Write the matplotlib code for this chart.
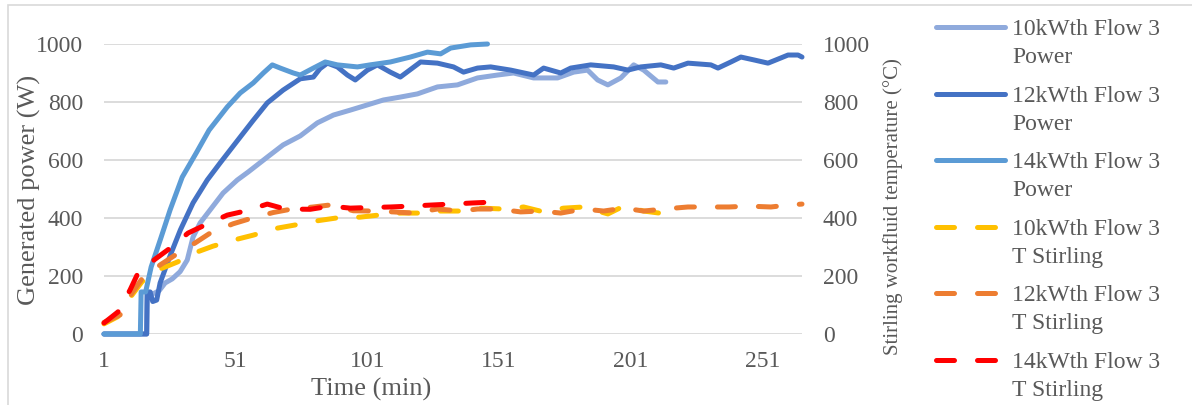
import matplotlib
matplotlib.use("Agg")
import matplotlib.pyplot as plt
from matplotlib.lines import Line2D
from matplotlib.patches import Rectangle

# ---------------- data ----------------
# minutes / generated power (W)
p10_t = [1, 17.2, 17.4, 20, 22, 24.2, 26.9, 29.9, 32.6, 34.8, 37.5, 41.3, 46.2, 51.6, 55.8, 63, 69, 75.5, 82, 88.1,
         94.5, 101, 107.1, 113.5, 120, 127.6, 135.2, 142.8, 150.4, 156.5, 164.1, 173.2, 179.3, 184.6, 188.4, 192.3,
         197.2, 202.1, 205.9, 211.3, 214.3]
p10 = [0, 0, 140, 140, 150, 176, 190, 215, 255, 334, 383, 428, 486, 531, 559, 610, 652, 683, 728, 755,
       772, 790, 807, 817, 828, 852, 859, 883, 893, 900, 883, 883, 903, 910, 876, 859,
       883, 928, 910, 869, 869]

p12_t = [1, 17.2, 17.4, 18.5, 19.5, 21, 22.3, 26.1, 30, 34.8, 40.2, 45.1, 52.7, 57.5, 63, 69, 75.5, 80.5, 83, 85.8,
         89.6, 93.4, 96.4, 101, 104.8, 109.7, 113.5, 121.2, 127.6, 133.7, 137.5, 142.8, 147.8, 155.4, 164.1,
         167.9, 174.4, 178.2, 185.8, 194.5, 199.9, 204.8, 212.4, 217.3, 222.7, 231.4, 234.1, 239, 242.8, 247.8,
         253.1, 258, 260.7, 264.5, 266]
p12 = [0, 0, 145, 145, 112, 117, 176, 270, 359, 452, 531, 590, 679, 735, 797, 841, 880, 886, 915, 934,
       921, 893, 876, 910, 928, 903, 886, 938, 934, 921, 903, 917, 921, 910, 893,
       917, 900, 917, 928, 921, 910, 921, 928, 917, 934, 928, 917, 938, 955, 945,
       934, 952, 962, 962, 955]

p14_t = [1, 14.8, 15.1, 16.8, 18.9, 22.7, 26.1, 30.7, 36, 40.9, 47.8, 52.7, 57.7, 61.5, 64.9, 67.9, 72.9,
         75.5, 80.5, 85, 89.6, 97.2, 102, 109.7, 117.3, 123.8, 128.8, 132.6, 140.2, 146.6]
p14 = [0, 0, 145, 145, 231, 334, 428, 541, 624, 703, 783, 831, 866, 900, 928, 917, 900,
       893, 917, 938, 928, 921, 928, 938, 955, 972, 966, 986, 997, 1000]

# minutes / Stirling workfluid temperature (degC)
t10_t = [1, 6.3, 11.6, 15.4, 21.5, 28.8, 36.4, 42.4, 51.6, 57.7, 66.8, 73.6, 82.4, 89.2, 98.3, 105.2, 113.5,
         121.2, 128.8, 137.1, 144, 152.7, 160.3, 167.9, 175.5, 183.1, 192.3, 198.3, 205.9, 214.3]
t10 = [35, 60, 134, 180, 221, 248, 283, 303, 327, 341, 365, 376, 391, 400, 403, 410, 417,
       417, 424, 424, 434, 431, 438, 421, 434, 438, 414, 441, 424, 414]

t12_t = [1, 7.1, 11.6, 15.4, 22.3, 28, 35.6, 41.3, 50, 57.3, 65.3, 71.7, 80.5, 86.9, 95.7, 103.3, 110.9, 118.5,
         127.6, 136.4, 142.8, 150.4, 159.2, 166.8, 174.4, 183.1, 190.7, 198.3, 205.9, 213.5, 222.7, 230.3, 238.3,
         245.5, 254.2, 261.1, 266]
t12 = [40, 66, 141, 190, 238, 272, 314, 348, 380, 400, 419, 430, 438, 445, 425, 424, 421, 417,
       431, 424, 431, 431, 421, 424, 417, 431, 424, 434, 424, 431, 438, 438, 438,
       441, 438, 445, 448]

t14_t = [1, 6.3, 10.9, 13.9, 20.4, 26.1, 32.9, 39.4, 47.8, 54.6, 63, 69.8, 79.3, 86.9, 94.5, 101, 109.7, 117.3,
         126, 132.6, 141.3, 148.9]
t14 = [38, 76, 152, 210, 258, 296, 348, 376, 410, 424, 448, 431, 430, 441, 434, 436, 438, 441,
       445, 448, 452, 455]

x_ticks = [1, 51, 101, 151, 201, 251]
y_ticks = [0, 200, 400, 600, 800, 1000]

labels = ["10kWth Flow 3\nPower", "12kWth Flow 3\nPower", "14kWth Flow 3\nPower",
          "10kWth Flow 3\nT Stirling", "12kWth Flow 3\nT Stirling", "14kWth Flow 3\nT Stirling"]
colors = ["#8FAADC", "#4472C4", "#5B9BD5", "#FFC000", "#ED7D31", "#FF0000"]

# ---------------- figure ----------------
plt.rcParams['font.family'] = ['Liberation Serif', 'DejaVu Serif']
TXT = '#595959'
W, H = 1192, 405
fig = plt.figure(figsize=(W / 100, H / 100), dpi=100)
fig.patch.set_facecolor('white')

# chart-area border
fig.add_artist(Rectangle((8 / W, -0.1), 1.2, 1 - 5 / H + 0.1, transform=fig.transFigure,
                         fill=False, edgecolor='#D9D9D9', lw=1.2))

L, R, T, B = 104, 802, 44, 334
ax = fig.add_axes([L / W, 1 - B / H, (R - L) / W, (B - T) / H])
ax2 = ax.twinx()

LW = 3.6
DASH = (3.6, 4.6)
solid_kw = dict(lw=LW, solid_capstyle='round', solid_joinstyle='round', clip_on=False)
dash_kw = dict(lw=LW, dash_capstyle='round', dash_joinstyle='round', clip_on=False, dashes=DASH)

ax.plot(p10_t, p10, color=colors[0], **solid_kw)
ax.plot(p12_t, p12, color=colors[1], **solid_kw)
ax.plot(p14_t, p14, color=colors[2], **solid_kw)
ax2.plot(t10_t, t10, color=colors[3], **dash_kw)
ax2.plot(t12_t, t12, color=colors[4], **dash_kw)
ax2.plot(t14_t, t14, color=colors[5], **dash_kw)

for a in (ax, ax2):
    a.set_xlim(1, 266)
    a.set_ylim(0, 1000)
    a.set_yticks(y_ticks)
    for s in a.spines.values():
        s.set_visible(False)
ax.set_xticks(x_ticks)
ax.set_xticklabels([str(v) for v in x_ticks])
ax.yaxis.grid(True, color='#D9D9D9', lw=1.3)
ax.set_axisbelow(True)

ax.tick_params(axis='x', length=0, labelsize=17, labelcolor=TXT, pad=12)
ax.tick_params(axis='y', length=0, labelsize=17, labelcolor=TXT, pad=15)
ax2.tick_params(axis='y', length=0, labelsize=17, labelcolor=TXT, pad=15)

ax.set_xlabel("Time (min)", fontsize=19, color=TXT, va='center')
ax.xaxis.set_label_coords((371 - L) / (R - L), (B - 389) / (B - T))
ax.set_ylabel("Generated power (W)", fontsize=19, color=TXT, va='center')
ax.yaxis.set_label_coords((29 - L) / (R - L), (B - 190) / (B - T))
ax2.set_ylabel("Stirling workfluid temperature (\u00b0C)", fontsize=15, color=TXT, va='center')
ax2.yaxis.set_label_coords((893 - L) / (R - L), (B - 207) / (B - T))

# ---------------- legend (manual, two-line labels) ----------------
y0, dy = 27, 66.6
for i, (lab, col) in enumerate(zip(labels, colors)):
    yc = y0 + i * dy
    kw = dict(solid_kw) if i < 3 else dict(dash_kw)
    kw.pop('clip_on')
    fig.add_artist(Line2D([936 / W, 1005 / W], [1 - yc / H, 1 - yc / H], transform=fig.transFigure,
                          color=col, **kw))
    first, second = lab.split("\n")
    fig.text(1012 / W, 1 - (yc + 8) / H, first, fontsize=17, color=TXT, va='baseline', ha='left')
    fig.text(1012 / W, 1 - (yc + 36) / H, second, fontsize=17, color=TXT, va='baseline', ha='left')

fig.savefig("out.png", dpi=100, facecolor='white')
